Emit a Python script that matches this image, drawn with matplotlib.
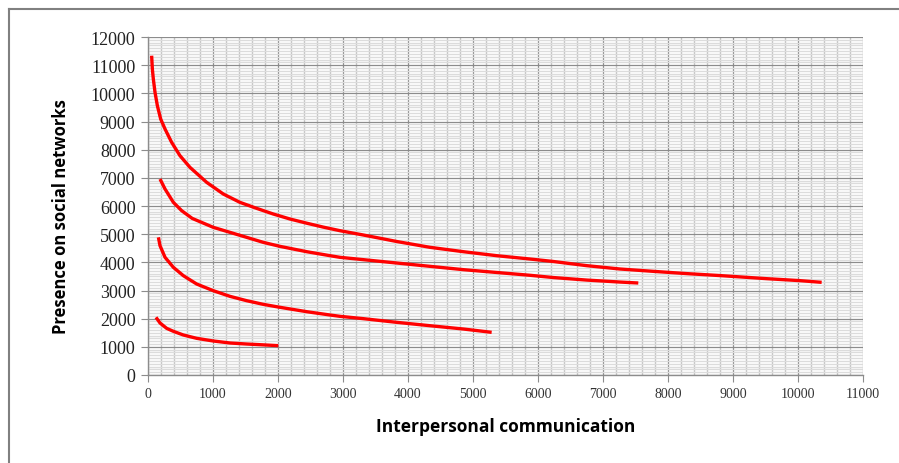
import matplotlib
matplotlib.use("Agg")
import matplotlib.pyplot as plt
from matplotlib.lines import Line2D
import numpy as np

# Data
s1_x = [56, 67, 82, 108, 144, 195, 262, 364, 492, 646, 903, 1159, 1415, 1672, 1928,
        2185, 2441, 2697, 2954, 3313, 3826, 4338, 4851, 5364, 5877, 6236, 6749, 7262,
        7774, 8287, 8800, 9518, 10031, 10364]
s1_y = [11336, 10863, 10508, 10034, 9561, 9088, 8733, 8259, 7786, 7371, 6839, 6425, 6129,
        5916, 5715, 5538, 5390, 5250, 5123, 4970, 4740, 4533, 4378, 4236, 4118, 4030, 3882,
        3763, 3680, 3600, 3530, 3420, 3350, 3290]

s2_x = [185, 262, 390, 518, 680, 1005, 1262, 1518, 1774, 2031, 2441, 2800, 2954, 3313,
        3826, 4338, 4851, 5364, 5877, 6236, 6749, 7262, 7543]
s2_y = [6958, 6603, 6130, 5834, 5560, 5242, 5064, 4887, 4709, 4567, 4378, 4236, 4178, 4095,
        3976, 3858, 3740, 3640, 3540, 3460, 3370, 3300, 3266]

s3_x = [160, 185, 262, 390, 544, 749, 1005, 1262, 1518, 1774, 2031, 2441, 2800, 2954,
        3313, 3826, 4338, 4851, 5287]
s3_y = [4888, 4590, 4178, 3823, 3526, 3230, 2993, 2792, 2638, 2508, 2403, 2248, 2130, 2083,
        2000, 1870, 1750, 1633, 1515]

s4_x = [123, 185, 287, 390, 544, 749, 1005, 1262, 1518, 1774, 2005]
s4_y = [2048, 1846, 1657, 1551, 1420, 1302, 1207, 1136, 1100, 1070, 1041]

x_ticks = list(range(0, 11001, 1000))
y_ticks = list(range(0, 12001, 1000))

W, H = 899, 464
fig = plt.figure(figsize=(W / 100, H / 100), dpi=100)
ax = fig.add_axes([148 / W, (H - 376) / H, (863 - 148) / W, (376 - 38) / H])

ax.set_xlim(0, 11000)
ax.set_ylim(0, 12000)
ax.set_facecolor("white")

# Grid
ax.set_xticks(x_ticks)
ax.set_yticks(y_ticks)
ax.set_xticks(np.arange(0, 11001, 200), minor=True)
ax.set_yticks(np.arange(0, 12001, 100), minor=True)
ax.grid(which="minor", axis="x", color="#c4c4c4", linewidth=1.0)
ax.grid(which="minor", axis="y", color="#dcdcdc", linewidth=1.0)
ax.grid(which="major", axis="both", color="#8c8c8c", linewidth=0.9)
ax.set_axisbelow(True)

for xs, ys in [(s1_x, s1_y), (s2_x, s2_y), (s3_x, s3_y), (s4_x, s4_y)]:
    ax.plot(xs, ys, color="#ff0000", linewidth=2.4, solid_capstyle="butt",
            solid_joinstyle="round")

for side in ["top", "right"]:
    ax.spines[side].set_visible(False)
for side in ["left", "bottom"]:
    ax.spines[side].set_color("#8c8c8c")
    ax.spines[side].set_linewidth(1.0)

ax.tick_params(axis="both", which="minor", length=0)
ax.tick_params(axis="y", which="major", length=5, color="#8c8c8c", pad=4, labelsize=13)
ax.tick_params(axis="x", which="major", length=5, color="#8c8c8c", pad=4, labelsize=10)
ax.set_xticklabels([str(v) for v in x_ticks], family="Liberation Serif", color="#333333")
ax.set_yticklabels([str(v) for v in y_ticks], family="Liberation Serif", color="#222222")

ax.set_xlabel("Interpersonal communication", family="Open Sans", fontweight="bold",
              fontsize=12.5, labelpad=12)
ax.set_ylabel("Presence on social networks", family="Open Sans", fontweight="bold",
              fontsize=12)
ax.yaxis.set_label_coords((70 - 148) / 715, (376 - 217) / 338)

# Outer frame (top and left edges)
fig.add_artist(Line2D([9 / W, 1], [1 - 10 / H, 1 - 10 / H], transform=fig.transFigure,
                      color="#808080", linewidth=1.5))
fig.add_artist(Line2D([9 / W, 9 / W], [0, 1 - 10 / H], transform=fig.transFigure,
                      color="#808080", linewidth=1.5))

fig.savefig("out.png", dpi=100)
